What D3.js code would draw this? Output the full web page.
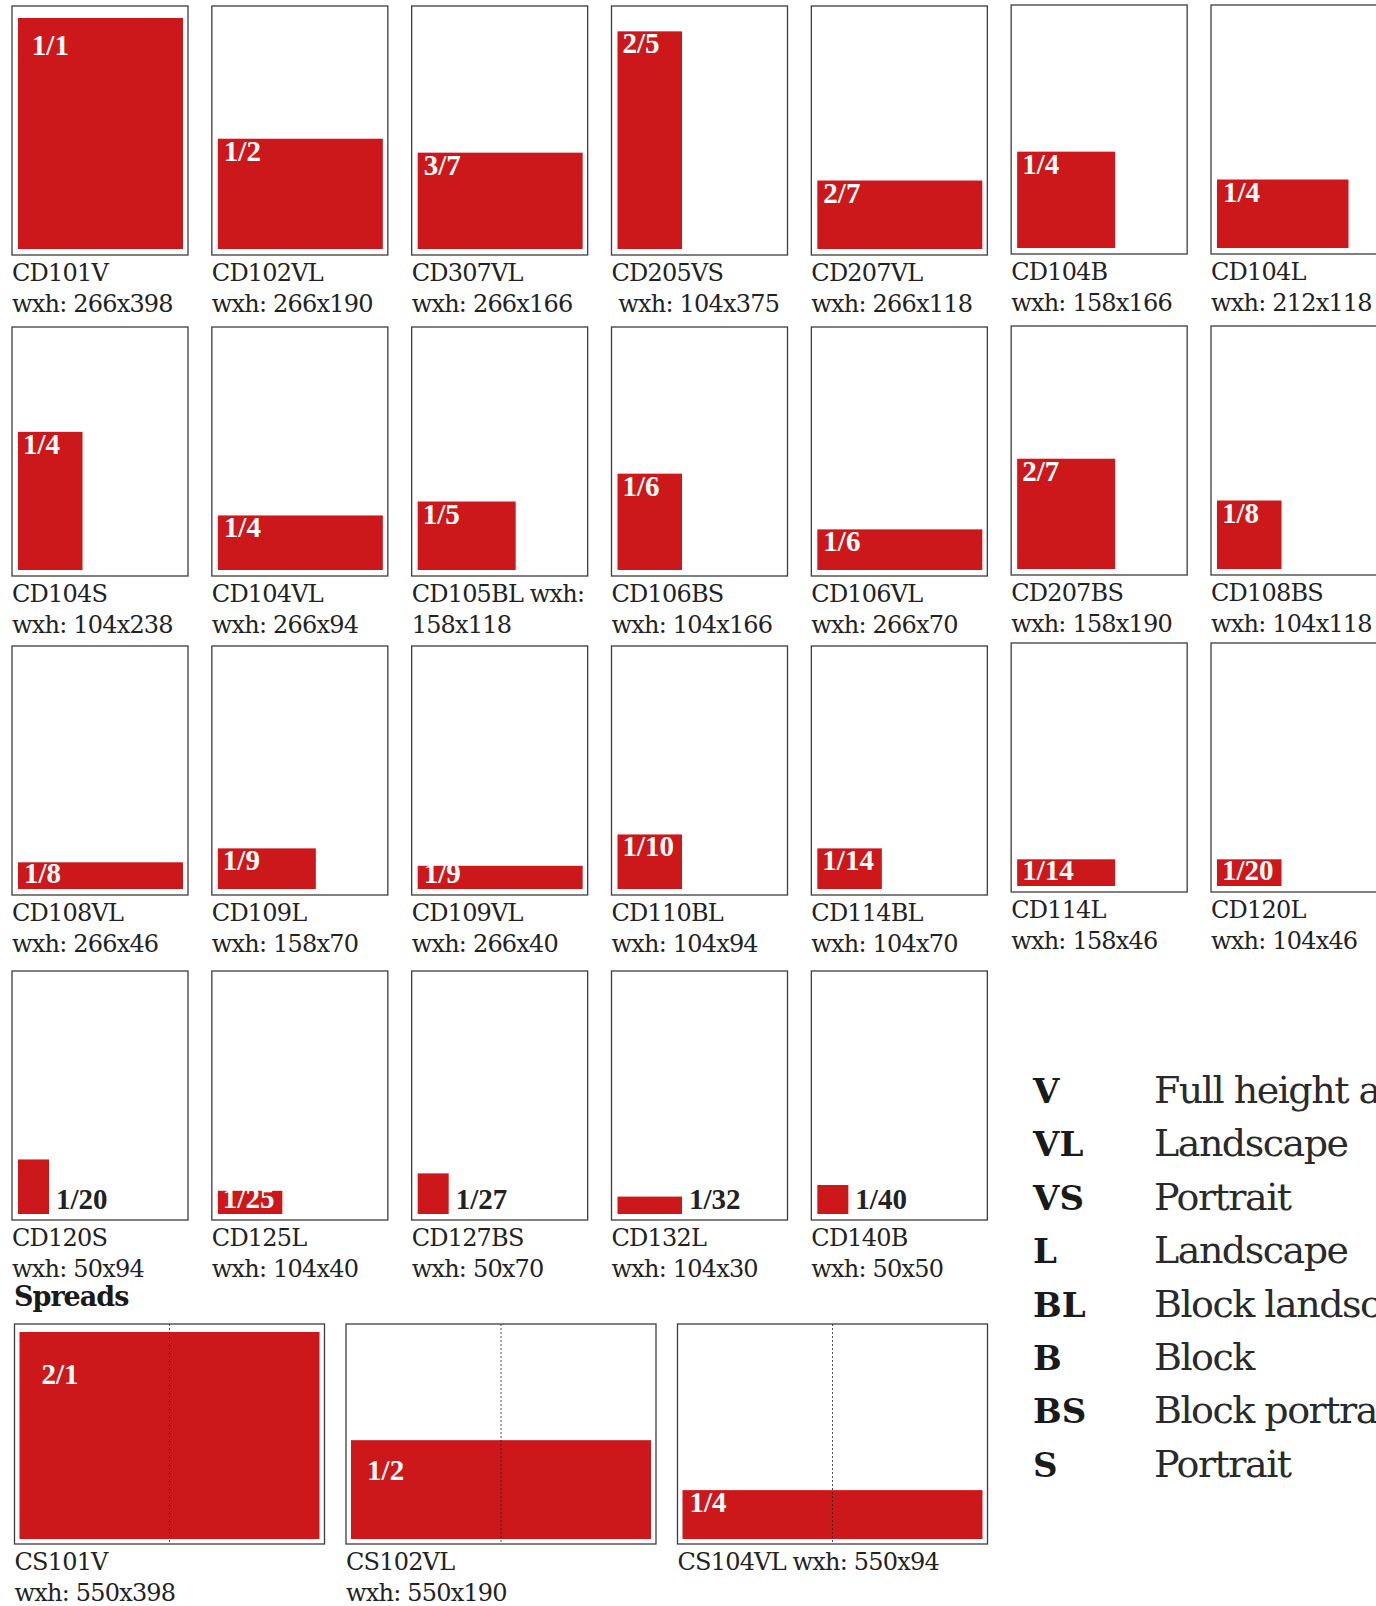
<!DOCTYPE html>
<html>
<head>
<meta charset="utf-8">
<script src="https://cdn.jsdelivr.net/npm/d3@7"></script>
<style>
    body { margin: 0; background: #fff; }
    svg { display: block; }
    .caption { font-family: "DejaVu Serif", serif; font-size: 24px; letter-spacing: -0.8px; fill: #222; }
    .fraction { font-family: "Liberation Serif", serif; font-weight: bold; font-size: 29px; }
    .key { font-family: "DejaVu Serif", serif; font-weight: bold; font-size: 34px; fill: #1a1a1a; }
    .key-name { font-family: "DejaVu Serif", serif; font-size: 38px; letter-spacing: -1.5px; fill: #2a2a2a; }
    .heading { font-family: "DejaVu Serif", serif; font-weight: bold; font-size: 27px; letter-spacing: -1px; fill: #1a1a1a; }
</style>
</head>
<body>
<div id="chart"></div>
<script>
// Ad sizes (mm), single pages
const codes = ["CD101V", "CD102VL", "CD307VL", "CD205VS", "CD207VL", "CD104B", "CD104L",
    "CD104S", "CD104VL", "CD105BL", "CD106BS", "CD106VL", "CD207BS", "CD108BS",
    "CD108VL", "CD109L", "CD109VL", "CD110BL", "CD114BL", "CD114L", "CD120L",
    "CD120S", "CD125L", "CD127BS", "CD132L", "CD140B"];
const widths = [266, 266, 266, 104, 266, 158, 212,
    104, 266, 158, 104, 266, 158, 104,
    266, 158, 266, 104, 104, 158, 104,
    50, 104, 50, 104, 50];
const heights = [398, 190, 166, 375, 118, 166, 118,
    238, 94, 118, 166, 70, 190, 118,
    46, 70, 40, 94, 70, 46, 46,
    94, 40, 70, 30, 50];
const fractions = ["1/1", "1/2", "3/7", "2/5", "2/7", "1/4", "1/4",
    "1/4", "1/4", "1/5", "1/6", "1/6", "2/7", "1/8",
    "1/8", "1/9", "1/9", "1/10", "1/14", "1/14", "1/20",
    "1/20", "1/25", "1/27", "1/32", "1/40"];
// these small ones carry their label beside the block
const outsideLabels = ["CD120S", "CD127BS", "CD132L", "CD140B"];

// Spreads
const spreadCodes = ["CS101V", "CS102VL", "CS104VL"];
const spreadWidths = [550, 550, 550];
const spreadHeights = [398, 190, 94];
const spreadFractions = ["2/1", "1/2", "1/4"];

// Key
const keyCodes = ["V", "VL", "VS", "L", "BL", "B", "BS", "S"];
const keyNames = ["Full height and width", "Landscape", "Portrait", "Landscape",
    "Block landscape", "Block", "Block portrait", "Portrait"];

// Captions that break differently from "CODE / wxh: WxH"
const captionOverrides = {
    CD205VS: ["CD205VS", " wxh: 104x375"],
    CD105BL: ["CD105BL wxh:", "158x118"],
    CS104VL: ["CS104VL wxh: 550x94", ""]
};

const width = 1376;
const height = 1606;
const red = '#cd181b';
const frame = '#3d3d3d';

const svg = d3.select('#chart')
    .append('svg')
    .attr('width', width)
    .attr('height', height);

// Page scales: mm -> px
const x = d3.scaleLinear().domain([0, 266]).range([0, 165]);
const y = d3.scaleLinear().domain([0, 398]).range([0, 231]);
const col = d3.scaleLinear().domain([0, 6]).range([12, 1211]);
const rowTops = [6, 327, 646, 971];
const rightShift = [-1, -1, -3, 0];
const boxW = 176;
const boxH = 249;
const inset = 6;

const pages = codes.map((code, i) => {
    const r = Math.floor(i / 7);
    const c = i % 7;
    return {
        code, w: widths[i], h: heights[i], fraction: fractions[i],
        bx: col(c),
        by: rowTops[r] + (c >= 5 ? rightShift[r] : 0)
    };
});

function captionLines(d) {
    return captionOverrides[d.code] || [d.code, `wxh: ${d.w}x${d.h}`];
}

// label offset grows a little on the tall blocks
function labelDy(h) { return 22 + Math.min(30, Math.max(0, h - 300) * 0.15); }
function labelDx(h) { return 6 + Math.min(15, Math.max(0, h - 300) * 0.08); }

const page = svg.append('g')
    .selectAll('g')
    .data(pages)
    .enter().append('g');

page.append('rect')
    .attr('x', d => d.bx)
    .attr('y', d => d.by)
    .attr('width', boxW)
    .attr('height', boxH)
    .attr('fill', '#fff')
    .attr('stroke', frame)
    .attr('stroke-width', 1.3);

page.append('rect')
    .attr('x', d => d.bx + inset)
    .attr('y', d => d.by + boxH - inset - y(d.h))
    .attr('width', d => x(d.w))
    .attr('height', d => y(d.h))
    .attr('fill', red);

page.append('text')
    .attr('class', 'fraction')
    .attr('x', d => outsideLabels.includes(d.code)
        ? d.bx + inset + x(d.w) + 7
        : d.bx + inset + (d.w > 200 ? labelDx(d.h) : 5))
    .attr('y', d => {
        const bottom = d.by + boxH - inset;
        if (outsideLabels.includes(d.code)) return bottom - 5.5;
        return Math.min(bottom - y(d.h) + (d.w > 200 ? labelDy(d.h) : 22), bottom - 6.5);
    })
    .attr('fill', d => outsideLabels.includes(d.code) ? '#222' : '#fff')
    .text(d => d.fraction);

page.each(function(d) {
    const lines = captionLines(d);
    const g = d3.select(this);
    lines.forEach((line, k) => {
        g.append('text')
            .attr('class', 'caption')
            .attr('x', d.bx)
            .attr('y', d.by + boxH + 25.5 + k * 31.5)
            .attr('xml:space', 'preserve')
            .style('white-space', 'pre')
            .text(line);
    });
});

// Spreads section
svg.append('text')
    .attr('class', 'heading')
    .attr('x', 14)
    .attr('y', 1306)
    .text('Spreads');

const sx = d3.scaleLinear().domain([0, 550]).range([0, 300]);
const sy = d3.scaleLinear().domain([0, 398]).range([0, 207]);
const spreadCol = d3.scaleLinear().domain([0, 2]).range([14.5, 677.5]);
const spreadTop = 1324;
const spreadW = 310;
const spreadH = 220;

const spreads = spreadCodes.map((code, i) => ({
    code, w: spreadWidths[i], h: spreadHeights[i], fraction: spreadFractions[i],
    bx: spreadCol(i), by: spreadTop
}));

const spread = svg.append('g')
    .selectAll('g')
    .data(spreads)
    .enter().append('g');

spread.append('rect')
    .attr('x', d => d.bx)
    .attr('y', d => d.by)
    .attr('width', spreadW)
    .attr('height', spreadH)
    .attr('fill', '#fff')
    .attr('stroke', frame)
    .attr('stroke-width', 1.3);

spread.append('rect')
    .attr('x', d => d.bx + 5)
    .attr('y', d => d.by + spreadH - 5 - sy(d.h))
    .attr('width', d => sx(d.w))
    .attr('height', d => sy(d.h))
    .attr('fill', red);

// fold line
spread.append('line')
    .attr('x1', d => d.bx + spreadW / 2)
    .attr('x2', d => d.bx + spreadW / 2)
    .attr('y1', d => d.by)
    .attr('y2', d => d.by + spreadH)
    .attr('stroke', '#222')
    .attr('stroke-width', 0.8)
    .attr('stroke-dasharray', '2,2');

// labels sit lower and further in on taller spreads
spread.append('text')
    .attr('class', 'fraction')
    .attr('x', d => d.bx + 5 + 7 + Math.min(15, (d.h - 94) * 0.095))
    .attr('y', d => d.by + spreadH - 5 - sy(d.h) + 22 + Math.min(30, (d.h - 94) * 0.19))
    .attr('fill', '#fff')
    .text(d => d.fraction);

spread.each(function(d) {
    const lines = captionLines(d);
    const g = d3.select(this);
    lines.forEach((line, k) => {
        g.append('text')
            .attr('class', 'caption')
            .attr('x', d.bx)
            .attr('y', d.by + spreadH + 25.5 + k * 31.5)
            .text(line);
    });
});

// Key of suffixes
const key = svg.append('g')
    .selectAll('g')
    .data(keyCodes)
    .enter().append('g')
    .attr('transform', (d, i) => `translate(0, ${1103 + i * 53.4})`);

key.append('text')
    .attr('class', 'key')
    .attr('x', 1033)
    .text(d => d);

key.append('text')
    .attr('class', 'key-name')
    .attr('x', 1154)
    .text((d, i) => keyNames[i]);
</script>
</body>
</html>
